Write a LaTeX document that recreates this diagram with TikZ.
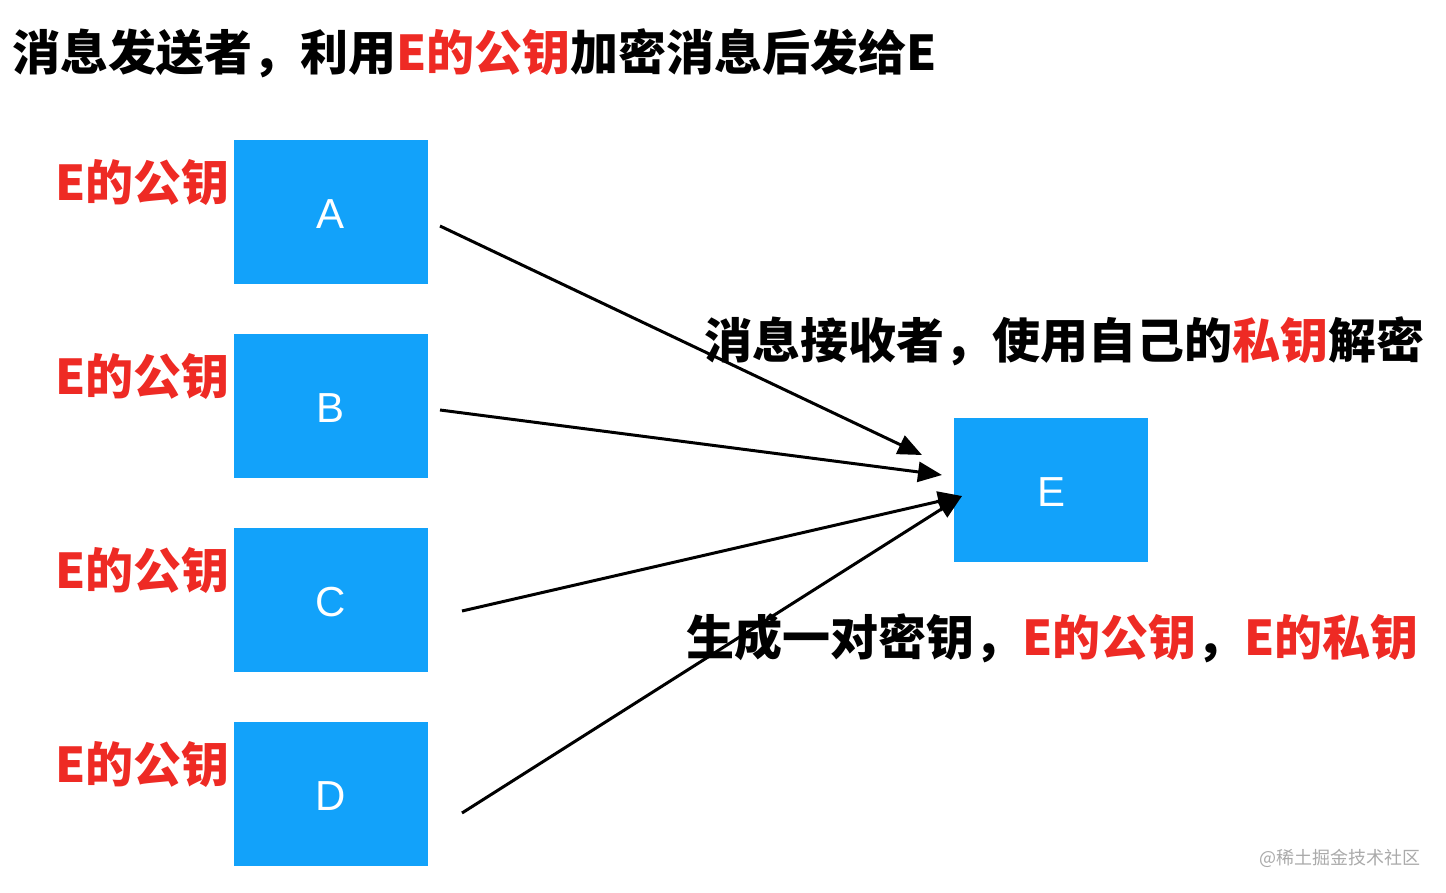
\documentclass[tikz,border=0pt]{standalone}
\usepackage{fontspec}
\newfontfamily\cjk{Noto Sans CJK SC}
\newfontfamily\lsans{Liberation Sans}
\usetikzlibrary{arrows.meta}
\definecolor{boxblue}{HTML}{12A2FA}
\definecolor{keyred}{HTML}{EE2A24}
\definecolor{wmgray}{HTML}{AAAAAA}
\tikzset{
  keybox/.style={fill=boxblue, draw=none, minimum width=194pt, minimum height=144pt, inner sep=0pt, anchor=north west},
  boxletter/.style={text=white, font=\lsans\fontsize{42}{48}\selectfont, inner sep=0pt, anchor=base},
  bigtext/.style={font=\cjk\bfseries\fontsize{48}{56}\selectfont, inner sep=0pt, anchor=base west},
  keylabel/.style={bigtext, text=keyred},
  msgarrow/.style={line width=3pt, -{Triangle[length=24pt,width=20pt]}},
}
\newcommand{\rd}[1]{\textcolor{keyred}{#1}}
\begin{document}
\begin{tikzpicture}[x=1pt,y=-1pt]
\useasboundingbox (0,0) rectangle (1446,892);
% title
\node[bigtext] (title) at (12,70) {消息发送者，利用\rd{E的公钥}加密消息后发给E};
% sender boxes
\foreach \n/\L/\t in {a/A/140, b/B/334, c/C/528, d/D/722}{
  \node[keybox] (\n) at (234,\t) {};
  \node[boxletter] (\n l) at (331,\t+88) {\L};
  \node[keylabel] (\n k) at (55,\t+60) {E的公钥};
}
% receiver
\node[keybox] (e) at (954,418) {};
\node[boxletter] (el) at (1051,506) {E};
% arrow ends
\coordinate (as) at (440,226);
\coordinate (bs) at (440,410);
\coordinate (cs) at (462,611);
\coordinate (ds) at (462,813);
\coordinate (at) at (922,455);
\coordinate (bt) at (942,475);
\coordinate (ct) at (962,496);
\draw[msgarrow] (as) -- (at);
\draw[msgarrow] (bs) -- (bt);
\draw[msgarrow] (cs) -- (ct);
\draw[msgarrow] (ds) -- (ct);
% messages
\node[bigtext] (m1) at (704,358) {消息接收者，使用自己的\rd{私钥}解密};
\node[bigtext] (m2) at (686,655) {生成一对密钥，\rd{E的公钥}，\rd{E的私钥}};
% watermark
\node[font=\cjk\fontsize{18}{20}\selectfont, text=wmgray, inner sep=0pt, anchor=base east] (wm) at (1421,864) {@稀土掘金技术社区};
\end{tikzpicture}
\end{document}
